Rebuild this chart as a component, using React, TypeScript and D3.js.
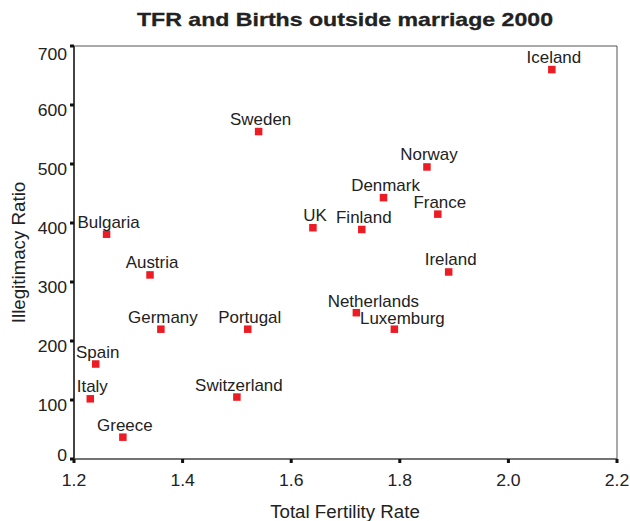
import React from "react";
import * as d3 from "d3";

const countries = ["Iceland", "Sweden", "Norway", "Denmark", "France", "UK", "Finland", "Ireland", "Netherlands", "Luxemburg", "Bulgaria", "Austria", "Germany", "Portugal", "Spain", "Italy", "Switzerland", "Greece"];
const tfr = [2.08, 1.54, 1.85, 1.77, 1.87, 1.64, 1.73, 1.89, 1.72, 1.79, 1.26, 1.34, 1.36, 1.52, 1.24, 1.23, 1.50, 1.29];
const illegitimacy = [660, 555, 495, 443, 415, 392, 389, 317, 248, 220, 381, 312, 220, 220, 161, 102, 105, 37];
const xTicks = [1.2, 1.4, 1.6, 1.8, 2.0, 2.2];
const yTicks = [0, 100, 200, 300, 400, 500, 600, 700];

const W = 630, H = 521;
const M = { left: 74, right: 617, top: 46, bottom: 459 };
const FONT = "'Liberation Sans', Arial, Helvetica, sans-serif";
const TEXT = "#222";
const RED = "#ec1c24";

// label placement nudges (layout only)
const labelNudge: Record<string, [number, number]> = {
  Netherlands: [17, 1],
  Luxemburg: [8, 1],
};

function SText({ x, y, k, rotate = 0, children, ...rest }: any) {
  return (
    <g transform={`translate(${x},${y}) rotate(${rotate}) scale(${k},1)`}>
      <text x={0} y={0} {...rest}>{children}</text>
    </g>
  );
}

export default function App() {
  const x = d3.scaleLinear().domain([1.2, 2.2]).range([M.left, M.right]);
  const y = d3.scaleLinear().domain([0, 700]).range([M.bottom, M.top]);
  const pts = countries.map((c, i) => ({ c, tx: tfr[i], iy: illegitimacy[i] }));
  const s = 7.5;
  return (
    <svg width={W} height={H} style={{ position: "absolute", left: 0, top: 0, background: "#fff" }} fontFamily={FONT}>
      <rect x={0} y={0} width={W} height={H} fill="#fff" />
      <text x={345} y={26} textAnchor="middle" fontSize={19} fontWeight="bold" fill={TEXT} stroke={TEXT} strokeWidth={0.3} textLength={416} lengthAdjust="spacingAndGlyphs">
        TFR and Births outside marriage 2000
      </text>
      {/* frame */}
      <line x1={M.left} x2={M.right} y1={M.top} y2={M.top} stroke="#555" strokeWidth={1} />
      <line x1={M.right} x2={M.right} y1={M.top} y2={M.bottom} stroke="#555" strokeWidth={1} />
      <line x1={M.left} x2={M.left} y1={M.top} y2={M.bottom} stroke="#444" strokeWidth={2} />
      <line x1={M.left} x2={M.right} y1={M.bottom} y2={M.bottom} stroke="#444" strokeWidth={1.5} />
      {yTicks.map((t) => (
        <g key={"y" + t}>
          <rect x={M.left - 4} y={y(t) - 1.5} width={4} height={3} fill="#111" />
          <SText x={M.left - 7} y={y(t) + (t === 0 ? 1.5 : t === 700 ? 13.5 : 11)} k={1.1} textAnchor="end" fontSize={16} fill={TEXT}>
            {t}
          </SText>
        </g>
      ))}
      {xTicks.map((t) => (
        <g key={"x" + t}>
          <rect x={x(t) - 1.5} y={M.bottom} width={3} height={4} fill="#111" />
          <SText x={x(t)} y={485.5} k={1.1} textAnchor="middle" fontSize={16} fill={TEXT}>
            {d3.format(".1f")(t)}
          </SText>
        </g>
      ))}
      <SText x={345} y={518} k={1.07} textAnchor="middle" fontSize={17.5} fill={TEXT}>
        Total Fertility Rate
      </SText>
      <SText x={25} y={252.5} k={1.07} rotate={-90} textAnchor="middle" fontSize={17.5} fill={TEXT}>
        Illegitimacy Ratio
      </SText>
      {pts.map((p) => {
        const [dx, dy] = labelNudge[p.c] || [2, 0];
        return (
          <g key={p.c}>
            <rect x={x(p.tx) - s / 2} y={y(p.iy) - s / 2} width={s} height={s} fill={RED} />
            <SText x={x(p.tx) + dx} y={y(p.iy) - 6.5 + dy} k={1.06} textAnchor="middle" fontSize={16} fill={TEXT}>
              {p.c}
            </SText>
          </g>
        );
      })}
    </svg>
  );
}
